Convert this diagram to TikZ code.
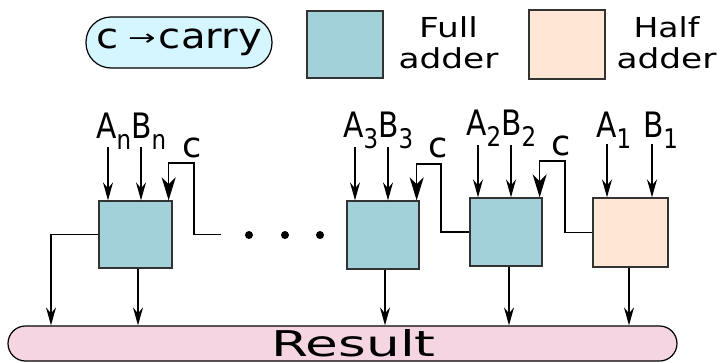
\documentclass[tikz,border=0pt]{standalone}
\usepackage{fontspec}
\setmainfont{DejaVu Sans}
\usetikzlibrary{arrows.meta}

\definecolor{fullfill}{HTML}{A3D1D9}
\definecolor{halffill}{HTML}{FFE6D5}
\definecolor{resfill}{HTML}{F5D5E2}
\definecolor{keyfill}{HTML}{D5F6FF}
\definecolor{edgegray}{HTML}{333333}

% signal name with a lowered, smaller index
\newcommand{\sig}[2]{#1\raisebox{-11pt}{\fontsize{27}{27}\selectfont #2}}

\tikzset{
  wire/.style={line width=1.5pt, black},
  inarrow/.style={wire, -{Stealth[length=18pt,width=10pt,inset=6pt]}},
  carryarrow/.style={wire, -{Stealth[length=23pt,width=14pt,inset=7pt]}},
  adder/.style={draw=edgegray, line width=1.3pt, inner sep=0pt},
  fullbox/.style={adder, fill=fullfill, minimum width=72pt, minimum height=68pt},
  halfbox/.style={adder, fill=halffill, minimum width=75pt, minimum height=69pt},
  sigtext/.style={inner sep=0pt, anchor=base west, font=\fontsize{35}{35}\selectfont},
  carrytext/.style={inner sep=0pt, anchor=base west, font=\fontsize{35}{35}\selectfont},
  legendtext/.style={inner sep=0pt, anchor=north, align=center, font=\fontsize{27.5}{31}\selectfont},
  dotmark/.style={circle, fill=black, inner sep=0pt, minimum size=8pt}
}

\begin{document}
\begin{tikzpicture}[x=1pt, y=-1pt]
  \useasboundingbox (0,0) rectangle (724,362);

  % legend
  \node[draw=black, line width=1.2pt, fill=keyfill, rounded corners=25pt,
        minimum width=186pt, minimum height=51pt, inner sep=0pt] (key) at (179,42.5)
        {\fontsize{35}{35}\selectfont\scalebox{1.15}[1]{c}\hspace{10pt}%
         \raisebox{3pt}{\fontsize{22}{22}\selectfont\scalebox{1.5}[1]{→}}\hspace{3pt}%
         \scalebox{1.15}[1]{carry}};
  \node[adder, fill=fullfill, minimum width=76pt, minimum height=67pt] (keyfull) at (345,44.5) {};
  \node[legendtext] (keyfulltext) at (448.5,16) {\scalebox{1.25}[1]{Full}\\\scalebox{1.25}[1]{adder}};
  \node[adder, fill=halffill, minimum width=76pt, minimum height=69pt] (keyhalf) at (567,44.5) {};
  \node[legendtext] (keyhalftext) at (666.5,16) {\scalebox{1.2}[1]{Half}\\\scalebox{1.25}[1]{adder}};

  % adders
  \node[fullbox, minimum width=73pt, minimum height=67pt] (fan) at (135.5,234.5) {};
  \node[fullbox] (fa3) at (383,235) {};
  \node[fullbox] (fa2) at (506,232) {};
  \node[halfbox] (ha1) at (630.5,232.5) {};

  % result bus
  \node[draw=black, line width=1.2pt, fill=resfill, rounded corners=17.5pt,
        minimum width=669pt, minimum height=35pt, inner sep=0pt] (res) at (342.5,343.5)
        {\hspace*{22pt}\fontsize{35.5}{35.5}\selectfont\scalebox{1.5}[1]{Result}};

  % operand names
  \node[sigtext] (lbln) at (96,138) {\scalebox{0.85}[1]{\sig{A}{n}\sig{B}{n}}};
  \node[sigtext] (lbl3) at (343,137) {\scalebox{0.85}[1]{\sig{A}{3}\sig{B}{3}}};
  \node[sigtext] (lbl2) at (466,135) {\scalebox{0.85}[1]{\sig{A}{2}\sig{B}{2}}};
  \node[sigtext] (lbl1) at (596,137) {\scalebox{0.85}[1]{\sig{A}{1}\hspace{14pt}\sig{B}{1}}};
  \node[carrytext] (cn) at (182,157) {c};
  \node[carrytext] (c3) at (428,157) {c};
  \node[carrytext] (c2) at (551,155) {c};

  % operand inputs
  \coordinate (inAn) at (108,147);
  \coordinate (inBn) at (141,147);
  \coordinate (inA3) at (355,147);
  \coordinate (inB3) at (388,147);
  \coordinate (inA2) at (478,145);
  \coordinate (inB2) at (511,145);
  \coordinate (inA1) at (607,144);
  \coordinate (inB1) at (652,144);
  \draw[inarrow] (inAn) -- (inAn |- fan.north);
  \draw[inarrow] (inBn) -- (inBn |- fan.north);
  \draw[inarrow] (inA3) -- (inA3 |- fa3.north);
  \draw[inarrow] (inB3) -- (inB3 |- fa3.north);
  \draw[inarrow] (inA2) -- (inA2 |- fa2.north);
  \draw[inarrow] (inB2) -- (inB2 |- fa2.north);
  \draw[inarrow] (inA1) -- (inA1 |- ha1.north);
  \draw[inarrow] (inB1) -- (inB1 |- ha1.north);

  % carry chain
  \coordinate (cinn) at (221,234.5);
  \coordinate (bendn) at (194,163);
  \coordinate (bend3) at (441,164);
  \coordinate (bend2) at (565,161);
  \draw[carryarrow] (cinn) -| (bendn) -| ([xshift=-4pt]fan.north east);
  \draw[carryarrow] (fa2.west) -| (bend3) -| ([xshift=-3pt]fa3.north east);
  \draw[carryarrow] (ha1.west) -| (bend2) -| ([xshift=-3pt]fa2.north east);

  % omitted stages
  \node[dotmark] (dot1) at (249,235) {};
  \node[dotmark] (dot2) at (285,235) {};
  \node[dotmark] (dot3) at (320,235) {};

  % outputs to the result bus
  \coordinate (tap) at (51,234.5);
  \draw[inarrow] (fan.west) -- (tap) -- (tap |- res.north);
  \draw[inarrow] ([xshift=2.5pt]fan.south) -- ([xshift=2.5pt]fan.south |- res.north);
  \draw[inarrow] ([xshift=2pt]fa3.south) -- ([xshift=2pt]fa3.south |- res.north);
  \draw[inarrow] ([xshift=3pt]fa2.south) -- ([xshift=3pt]fa2.south |- res.north);
  \draw[inarrow] ([xshift=-1.5pt]ha1.south) -- ([xshift=-1.5pt]ha1.south |- res.north);
\end{tikzpicture}
\end{document}
